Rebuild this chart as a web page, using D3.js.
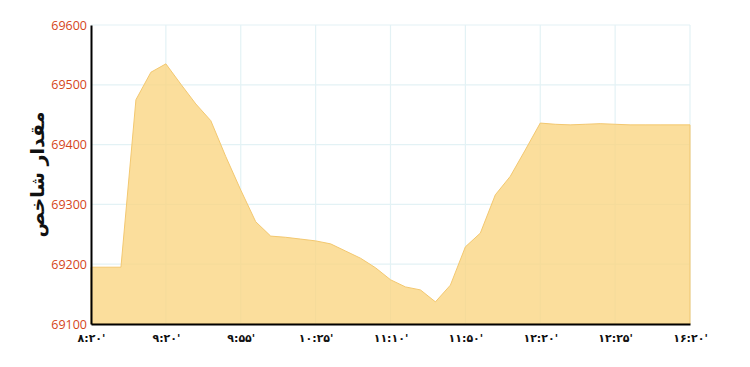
<!DOCTYPE html>
<html>
<head>
<meta charset="utf-8">
<script src="https://cdn.jsdelivr.net/npm/d3@7"></script>
<style>
  body { margin: 0; background: #fff; }
  svg { display: block; }
</style>
</head>
<body>
<div id="chart"></div>
<script>
// tick labels shown every 5th point
const tickLabels = ["۸:۲۰'", "۹:۲۰'", "۹:۵۵'", "۱۰:۲۵'", "۱۱:۱۰'", "۱۱:۵۰'", "۱۲:۲۰'", "۱۲:۲۵'", "۱۶:۲۰'"];
const indexValues = [
  69195, 69195, 69195, 69475, 69521, 69535, 69501, 69468, 69440, 69380,
  69324, 69271, 69247, 69245, 69242, 69239, 69234, 69222, 69210, 69194,
  69174, 69162, 69157, 69137, 69165, 69229, 69252, 69316, 69347, 69391,
  69436, 69434, 69433, 69434, 69435, 69434, 69433, 69433, 69433, 69433,
  69433
];
const yTicks = [69100, 69200, 69300, 69400, 69500, 69600];
const yTitle = 'مقدار شاخص';

const width = 750, height = 367;
const margin = { top: 25, right: 60, bottom: 43, left: 91 };
const innerW = width - margin.left - margin.right;
const innerH = height - margin.top - margin.bottom;

const svg = d3.select('#chart').append('svg').attr('width', width).attr('height', height);
const g = svg.append('g').attr('transform', `translate(${margin.left},${margin.top})`);

const x = d3.scaleLinear().domain([0, indexValues.length - 1]).range([0, innerW]);
const y = d3.scaleLinear().domain([69100, 69600]).range([innerH, 0]);
const tickIdx = tickLabels.map((d, i) => i * 5);

// grid
g.append('g').selectAll('line.h').data(yTicks.slice(1)).enter().append('line')
  .attr('x1', 0).attr('x2', innerW).attr('y1', d => y(d)).attr('y2', d => y(d))
  .attr('stroke', '#e3f2f5').attr('stroke-width', 1.2);
g.append('g').selectAll('line.v').data(tickIdx.slice(1)).enter().append('line')
  .attr('x1', d => x(d)).attr('x2', d => x(d)).attr('y1', 0).attr('y2', innerH)
  .attr('stroke', '#e3f2f5').attr('stroke-width', 1.2);

// area
const area = d3.area().x((d, i) => x(i)).y0(innerH).y1(d => y(d));
g.append('path').datum(indexValues).attr('d', area)
  .attr('fill', '#fad580').attr('fill-opacity', 0.78)
  .attr('stroke', '#f3c870').attr('stroke-width', 1);

// axes
const yAxis = d3.axisLeft(y).tickValues(yTicks).tickSize(0).tickPadding(4).tickFormat(d3.format('d'));
const ya = g.append('g').call(yAxis);
ya.select('.domain').attr('stroke', '#000').attr('stroke-width', 2);
ya.selectAll('.tick text').attr('fill', '#d5451b').style('font-family', 'Open Sans, Liberation Sans, sans-serif').style('font-size', '12.5px');

const xAxis = d3.axisBottom(x).tickValues(tickIdx).tickSize(0).tickPadding(10).tickFormat((d, i) => tickLabels[i]);
const xa = g.append('g').attr('transform', `translate(0,${innerH})`).call(xAxis);
xa.select('.domain').attr('stroke', '#000').attr('stroke-width', 2);
xa.selectAll('.tick text').attr('fill', '#111').style('font-family', 'DejaVu Sans, sans-serif')
  .style('font-size', '11px').style('font-weight', 'bold');

svg.append('text')
  .attr('transform', `translate(38,${margin.top + innerH / 2}) rotate(-90)`)
  .attr('text-anchor', 'middle').attr('dominant-baseline', 'middle')
  .style('font-family', 'DejaVu Sans, sans-serif').style('font-size', '19px').style('font-weight', 'bold')
  .attr('fill', '#111').text(yTitle);
</script>
</body>
</html>
